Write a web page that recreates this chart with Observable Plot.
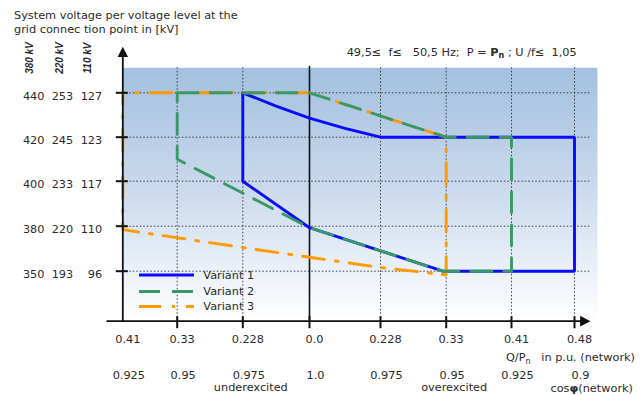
<!DOCTYPE html>
<html><head><meta charset="utf-8">
<script src="https://cdn.jsdelivr.net/npm/d3@7"></script>
<script src="https://cdn.jsdelivr.net/npm/@observablehq/plot@0.6"></script>
<style>
body{margin:0;background:#fff;}
#wrap{position:relative;width:644px;height:396px;font-family:"DejaVu Sans",Verdana,sans-serif;color:#2a2a2a;overflow:hidden;}
.t{position:absolute;white-space:pre;font-size:11.3px;line-height:11px;}
.kv{position:absolute;white-space:pre;font-family:"Liberation Sans",Arial,sans-serif;font-weight:bold;font-style:italic;font-size:10px;line-height:10px;width:44px;text-align:center;transform:translate(-50%,-50%) rotate(-90deg);}
#legend{position:absolute;left:0;top:0;}
</style></head><body><div id="wrap"></div>
<script>
// ---- data ----
const qTicks = [-0.41, -0.33, -0.228, 0, 0.228, 0.33, 0.41, 0.48];           // Q/Pn (underexcited negative)
const qLabels = ["0.41", "0.33", "0.228", "0.0", "0.228", "0.33", "0.41", "0.48"];
const cosLabels = ["0.925", "0.95", "0.975", "1.0", "0.975", "0.95", "0.925", "0.9"];
const u380 = [350, 380, 400, 420, 440];
const u220 = ["193", "220", "233", "245", "253"];
const u110 = ["96", "110", "117", "123", "127"];
const excitation = ["underexcited", "overexcited"];
const excitationQ = [-0.228, 0.33];

const v1Q = [-0.228, -0.114, 0, 0.114, 0.228, 0.48, 0.48, 0.325, 0, -0.228, -0.228];
const v1U = [440, 434, 428.6, 424, 420, 420, 350, 350, 379, 400, 440];
const v2Q = [-0.33, 0, 0.33, 0.41, 0.41, 0.325, 0, -0.33, -0.33];
const v2U = [440, 440, 420, 420, 350, 350, 379, 410, 440];
const v3Q = [-0.41, 0, 0.33, 0.33, 0.228, 0, -0.228, -0.33, -0.41, -0.41];
const v3U = [440, 440, 420, 347.5, 352.5, 359.3, 365.8, 372.3, 377.7, 440];

const seriesNames = ["Variant 1", "Variant 2", "Variant 3"];

// ---- style ----
const C1 = "#0a0aff", C2 = "#3a9868", C3 = "#ff9a00";
const dash2 = "21,12", dash3 = "22,11,3,11";
const ink = "#111";
const grid = {stroke: "#222", strokeWidth: 1, strokeDasharray: "1.5,2", strokeOpacity: 0.85};
const tickShape = {draw(ctx, l) { ctx.moveTo(0, 0); ctx.lineTo(0, -l); }};
const arrowShape = {draw(ctx, l) {
  ctx.moveTo(0, 0); ctx.lineTo(0, -l + 6);
  ctx.moveTo(-3.8, -l + 7.5); ctx.lineTo(0, -l); ctx.lineTo(3.8, -l + 7.5); ctx.closePath();
}};

const plot = Plot.plot({
  width: 644, height: 396,
  marginLeft: 122.3, marginRight: 47, marginTop: 67.3, marginBottom: 75.3,
  x: {type: "linear", axis: null, domain: qTicks, range: [122.3, 176.7, 242.3, 309, 380, 445.7, 511, 574]},
  y: {type: "linear", axis: null, domain: u380, range: [270.7, 225.7, 180.7, 136.7, 92.3]},
  style: {fontFamily: "DejaVu Sans, Verdana, sans-serif", fontSize: "11.3px", color: "#2a2a2a", background: "transparent", overflow: "visible"},
  marks: [
    Plot.frame({fill: "url(#bgGrad)", stroke: null}),
    Plot.ruleY(u380, {y: d => d, insetRight: 7, ...grid}),
    Plot.ruleX(qTicks.filter(d => d !== 0 && d !== qTicks[0]), {x: d => d, ...grid}),
    Plot.ruleX([0], {x: d => d, stroke: ink, strokeWidth: 1.6, insetTop: -1.5}),
    Plot.line(d3.zip(v1Q, v1U), {x: d => d[0], y: d => d[1], stroke: C1, strokeWidth: 2.9, strokeLinejoin: "miter"}),
    Plot.line(d3.zip(v3Q, v3U), {x: d => d[0], y: d => d[1], stroke: C3, strokeWidth: 2.9, strokeDasharray: dash3, strokeDashoffset: 20, strokeLinejoin: "miter"}),
    Plot.line(d3.zip(v2Q, v2U), {x: d => d[0], y: d => d[1], stroke: C2, strokeWidth: 2.9, strokeDasharray: dash2, strokeLinejoin: "miter"}),
    // axes
    Plot.vector([0], {frameAnchor: "bottom-left", length: 272.5, anchor: "start", shape: arrowShape, stroke: ink, fill: ink, strokeWidth: 1.8, strokeLinecap: "butt", strokeLinejoin: "miter"}),
    Plot.vector([0], {frameAnchor: "bottom-left", rotate: 90, length: 482, anchor: "start", dx: -16.3, shape: arrowShape, stroke: ink, fill: ink, strokeWidth: 1.8, strokeLinecap: "butt", strokeLinejoin: "miter"}),
    Plot.vector(u380, {y: d => d, frameAnchor: "left", rotate: 90, length: 12, anchor: "start", dx: -7, shape: tickShape, stroke: ink, strokeWidth: 2, strokeLinecap: "butt"}),
    Plot.vector(qTicks.slice(1), {x: d => d, frameAnchor: "bottom", length: 12, anchor: "start", dy: 7, shape: tickShape, stroke: ink, strokeWidth: 2, strokeLinecap: "butt"}),
    // tick labels
    Plot.text(u380, {y: d => d, text: d => String(d), frameAnchor: "left", textAnchor: "end", dx: -78.3, dy: 3.4}),
    Plot.text(u380, {y: d => d, text: (d, i) => u220[i], frameAnchor: "left", textAnchor: "end", dx: -49.6, dy: 3.4}),
    Plot.text(u380, {y: d => d, text: (d, i) => u110[i], frameAnchor: "left", textAnchor: "end", dx: -20.6, dy: 3.4}),
    Plot.text(qTicks, {x: d => d, text: (d, i) => qLabels[i], frameAnchor: "bottom", dx: 5, dy: 21.8}),
    Plot.text(qTicks, {x: d => d, text: (d, i) => cosLabels[i], frameAnchor: "bottom", dx: 6, dy: 57.5}),
    Plot.text(excitationQ, {x: d => d, text: (d, i) => excitation[i], frameAnchor: "bottom", dx: 8, dy: 69.8})
  ]
});

// gradient for plot background
const defs = d3.select(plot).insert("defs", ":first-child");
const grad = defs.append("linearGradient").attr("id", "bgGrad").attr("x1", 0).attr("y1", 0).attr("x2", 0).attr("y2", 1);
grad.append("stop").attr("offset", "0%").attr("stop-color", "#a2c0df");
grad.append("stop").attr("offset", "45%").attr("stop-color", "#c8d8ec");
grad.append("stop").attr("offset", "100%").attr("stop-color", "#ffffff");

const wrap = document.getElementById("wrap");
plot.style.position = "absolute"; plot.style.left = "0"; plot.style.top = "0";
wrap.appendChild(plot);

function addText(html, css, cls = "t") {
  const d = document.createElement("div");
  d.className = cls; d.innerHTML = html;
  Object.assign(d.style, css);
  wrap.appendChild(d);
}
addText("System voltage per voltage level at the", {left: "14px", top: "10.3px"});
addText("grid connec tion point in [kV]", {left: "14px", top: "24.4px"});
addText("49,5\u2264  f\u2264   50,5 Hz;  P = <b>P<sub style=\"font-size:8px;vertical-align:-2px\">n</sub></b> ; U /f\u2264  1,05", {left: "346.7px", top: "47.4px"});
addText("Q/P<sub style=\"font-size:8px;vertical-align:-3px\">n</sub>   in p.u. (network)", {right: "9px", top: "352.4px"});
addText("cos<b>\u03c6</b>(network)", {right: "11px", top: "383px"});
addText("380 kV", {left: "29.7px", top: "57.5px"}, "kv");
addText("220 kV", {left: "59.7px", top: "57.5px"}, "kv");
addText("110 kV", {left: "87.8px", top: "57.5px"}, "kv");

// legend
const lg = d3.select(wrap).append("svg").attr("id", "legend").attr("width", 644).attr("height", 396)
  .style("pointer-events", "none");
const legendStyles = [[C1, null], [C2, dash2], [C3, dash3]];
const rowY = [275, 291.5, 306.5];
seriesNames.forEach((name, i) => {
  const [c, da] = legendStyles[i];
  lg.append("line").attr("x1", 139).attr("x2", 194).attr("y1", rowY[i]).attr("y2", rowY[i])
    .attr("stroke", c).attr("stroke-width", 2.9).attr("stroke-dasharray", da);
  lg.append("text").attr("x", 203.3).attr("y", rowY[i] + 3.8).text(name)
    .attr("font-family", "DejaVu Sans, Verdana, sans-serif").attr("font-size", 11.3).attr("fill", "#2a2a2a");
});
</script></body></html>
